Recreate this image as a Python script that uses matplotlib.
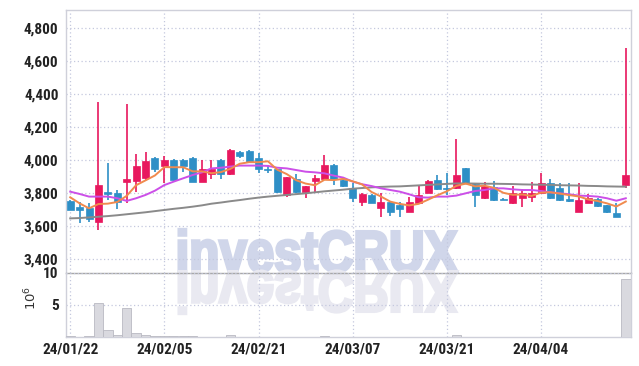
import numpy as np
import pandas as pd
import matplotlib
matplotlib.use("Agg")
import matplotlib.pyplot as plt
from matplotlib.textpath import TextPath
from matplotlib.patches import PathPatch
from matplotlib.font_manager import FontProperties
from matplotlib.transforms import Affine2D

############################################
# Data (trading days 2024-01-22 .. 2024-04-18)
############################################
opens = [3752, 3717, 3711, 3626, 3808, 3802, 3869, 3875, 3889, 4010,
         3966, 4000, 4000, 4014, 3869, 3913, 4000, 3913, 4048, 4055,
         4010, 3945, 3945, 3788, 3885, 3804, 3875, 3885, 3970, 3879,
         3828, 3747, 3788, 3711, 3747, 3727, 3687, 3741, 3802, 3879,
         3828, 3828, 3949, 3853, 3768, 3838, 3764, 3737, 3772, 3778,
         3798, 3859, 3828, 3764, 3687, 3741, 3764, 3727, 3677, 3848]
highs = [3755, 3747, 3737, 4353, 3980, 3818, 4339, 4036, 4050, 4020,
         4026, 4003, 4003, 4017, 4000, 4000, 4003, 4065, 4052, 4061,
         4040, 3970, 3948, 3898, 3913, 3845, 3909, 4030, 3973, 3892,
         3859, 3798, 3792, 3798, 3750, 3747, 3778, 3842, 3877, 3909,
         3919, 4125, 3952, 3860, 3869, 3873, 3767, 3842, 3822, 3869,
         3923, 3883, 3863, 3859, 3859, 3792, 3768, 3730, 3741, 4679]
lows = [3694, 3620, 3626, 3576, 3758, 3701, 3741, 3808, 3880, 3925,
        3861, 3875, 3925, 3865, 3865, 3883, 3883, 3909, 4010, 3987,
        3919, 3919, 3800, 3778, 3800, 3768, 3804, 3879, 3848, 3838,
        3747, 3721, 3737, 3653, 3662, 3653, 3683, 3737, 3798, 3818,
        3788, 3824, 3855, 3717, 3764, 3754, 3755, 3733, 3717, 3747,
        3795, 3764, 3754, 3748, 3683, 3737, 3717, 3677, 3653, 3830]
closes = [3697, 3697, 3641, 3848, 3794, 3747, 3883, 3964, 3994, 3943,
          4000, 3879, 3964, 3869, 3943, 3943, 3913, 4061, 4026, 3990,
          3943, 3940, 3804, 3895, 3804, 3842, 3889, 3970, 3885, 3842,
          3768, 3794, 3741, 3747, 3687, 3701, 3747, 3788, 3873, 3822,
          3822, 3909, 3859, 3788, 3842, 3758, 3758, 3798, 3798, 3798,
          3859, 3768, 3758, 3752, 3758, 3768, 3721, 3687, 3656, 3909]
# volume in millions of shares
volumes = [0.08, 0.06, 0.10, 5.30, 1.07, 0.35, 4.55, 0.65, 0.30, 0.15,
           0.12, 0.12, 0.10, 0.12, 0.05, 0.04, 0.05, 0.30, 0.05, 0.03,
           0.03, 0.03, 0.03, 0.03, 0.03, 0.03, 0.03, 0.20, 0.03, 0.03,
           0.03, 0.03, 0.03, 0.03, 0.03, 0.03, 0.03, 0.03, 0.03, 0.03,
           0.03, 0.30, 0.03, 0.03, 0.03, 0.03, 0.03, 0.03, 0.03, 0.03,
           0.03, 0.03, 0.03, 0.03, 0.03, 0.03, 0.03, 0.03, 0.03, 8.98]
# first MA5 values depend on earlier sessions
ma5_start = [3774, 3737, 3707, 3733]
ma20 = [3808, 3794, 3778, 3778, 3778, 3768, 3752, 3768, 3788, 3814,
        3848, 3869, 3889, 3909, 3925, 3949, 3953, 3960, 3966, 3966,
        3966, 3964, 3953, 3949, 3939, 3929, 3925, 3919, 3905, 3893,
        3869, 3853, 3842, 3828, 3818, 3808, 3792, 3774, 3772, 3778,
        3778, 3784, 3798, 3812, 3818, 3828, 3828, 3822, 3818, 3818,
        3812, 3804, 3798, 3792, 3784, 3782, 3778, 3768, 3753, 3768]
ma_long = [3646, 3648, 3652, 3656, 3660, 3665, 3671, 3677, 3683, 3690,
           3697, 3704, 3710, 3717, 3725, 3735, 3742, 3750, 3757, 3765,
           3772, 3778, 3783, 3788, 3793, 3798, 3804, 3810, 3815, 3820,
           3826, 3830, 3834, 3837, 3839, 3840, 3843, 3846, 3849, 3852,
           3855, 3858, 3858, 3857, 3856, 3856, 3855, 3854, 3852, 3851,
           3850, 3849, 3847, 3846, 3845, 3843, 3842, 3840, 3839, 3838]
tick_idx = [0, 10, 20, 30, 40, 50]
tick_labels = ["24/01/22", "24/02/05", "24/02/21", "24/03/07", "24/03/21", "24/04/04"]
price_ticks = [3400, 3600, 3800, 4000, 4200, 4400, 4600, 4800]

##################################################################
# Styling
##################################################################
up_col = "#e8185e"
down_col = "#2e8fc6"
grid_col = "#c4c8de"
spine_col = "#cfd0da"
# condensed look for tick labels; first installed family wins
label_font = ["Roboto Condensed", "Liberation Sans Narrow", "DejaVu Sans Condensed", "Roboto", "DejaVu Sans"]

df = pd.DataFrame({"o": opens, "h": highs, "l": lows, "c": closes, "v": volumes})
x = np.arange(len(df))
ma5 = df["c"].rolling(5).mean().to_numpy()
ma5[:4] = ma5_start

fig = plt.figure(figsize=(6.39, 3.66), dpi=100)
ax = fig.add_axes([65.5 / 639, 1 - 272.5 / 366, 565 / 639, 262.5 / 366])
axv = fig.add_axes([65.5 / 639, 1 - 337 / 366, 565 / 639, 64.5 / 366], sharex=ax)
for a in (ax, axv):
    a.set_facecolor("none")
    a.set_zorder(1)

# Watermark with reflection, drawn behind the axes
fp = FontProperties(family="Liberation Sans", weight="bold")
tp = TextPath((0, 0), "investCRUX", size=1, prop=fp)
bb = tp.get_extents()
cap = TextPath((0, 0), "X", size=1, prop=fp).get_extents().height
sx = 2.78 / bb.width
sy = 0.40 / cap
base_x, base_y = 1.79, (366 - 271.5) / 100
tr = Affine2D().translate(-bb.x0, 0).scale(sx, sy).translate(base_x, base_y) + fig.dpi_scale_trans
fig.add_artist(PathPatch(tp, transform=tr, facecolor="#d0d6ea", edgecolor="#d0d6ea",
                         linewidth=2.2, zorder=-2))
tr2 = Affine2D().translate(-bb.x0, 0).scale(sx, -sy).translate(base_x, base_y) + fig.dpi_scale_trans
fig.add_artist(PathPatch(tp, transform=tr2, facecolor="#e9e9f1", edgecolor="#e9e9f1",
                         linewidth=2.2, zorder=-2))

# Candles
up = df["c"] >= df["o"]
cols = np.where(up, up_col, down_col)
body_lo = np.minimum(df["o"], df["c"])
body_h = np.maximum(np.abs(df["c"] - df["o"]), 4)
ax.vlines(x, df["l"], df["h"], colors=cols, linewidth=1.2, zorder=3)
ax.bar(x, body_h, bottom=body_lo, width=0.74, color=cols, edgecolor=cols, linewidth=0.5, zorder=4)

# Moving averages
ax.plot(x, ma_long, color="#8a8a8a", linewidth=1.4, zorder=5)
ax.plot(x, ma20, color="#cc4fe8", linewidth=1.4, zorder=5)
ax.plot(x, ma5, color="#f08a4e", linewidth=1.4, zorder=5)

ax.set_xlim(-0.5, len(df) - 0.5)
ax.set_ylim(3318, 4909)
ax.set_yticks(price_ticks)
ax.set_yticklabels(["{:,}".format(p) for p in price_ticks])
ax.grid(True, color=grid_col, linestyle=(0, (1, 2)), linewidth=0.9)
ax.tick_params(axis="y", length=0, pad=5, labelsize=11, labelcolor="#222222")
ax.tick_params(axis="x", length=0, labelbottom=False)
for lab in ax.get_yticklabels():
    lab.set_family(label_font)
    lab.set_weight("bold")

# Volume
axv.bar(x, df["v"], width=1.0, color="#d9d9df", edgecolor="#b9b9c2", linewidth=0.6, zorder=3)
axv.set_ylim(0, df["v"].max() * 1.1)
axv.set_yticks([5, 10])
axv.set_yticklabels(["5", "10"])
axv.set_xticks(tick_idx)
axv.set_xticklabels(tick_labels)
axv.grid(True, color=grid_col, linestyle=(0, (1, 2)), linewidth=0.9)
axv.tick_params(axis="both", length=0, labelsize=11, labelcolor="#222222")
axv.tick_params(axis="y", pad=5)
axv.tick_params(axis="x", pad=4)
for lab in axv.get_yticklabels() + axv.get_xticklabels():
    lab.set_family(label_font)
    lab.set_weight("bold")
fig.text(31 / 639, 1 - 298 / 366, r"$10^6$", rotation=90, ha="center", va="center",
         fontsize=9.5, color="#333333")

for a in (ax, axv):
    for s in a.spines.values():
        s.set_color(spine_col)
        s.set_linewidth(1.0)
ax.spines["bottom"].set_color("#a8a8a8")
axv.spines["top"].set_visible(False)

fig.savefig("out.png", dpi=100)
